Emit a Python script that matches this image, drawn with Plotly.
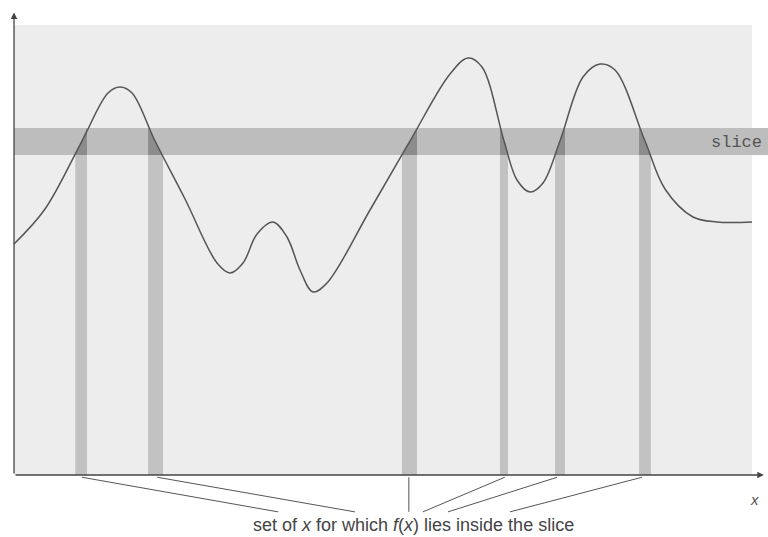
import plotly.graph_objects as go

# curve f(x) (x: 0..100 along the axis, y: 0..100 up to top of the grey panel)
curve_x = [0.0, 4.20, 9.21, 12.74, 14.36, 15.99, 19.11, 23.17, 27.51, 29.27, 31.03, 32.93,
           35.09, 36.99, 38.75, 40.51, 42.41, 48.24, 53.66, 59.08, 61.52, 63.41, 66.40,
           68.16, 69.92, 71.68, 73.98, 77.10, 79.40, 81.44, 85.50, 88.21, 92.01, 95.26, 100.0]
curve_y = [51.33, 59.11, 74.22, 84.89, 86.22, 84.89, 74.22, 61.33, 47.11, 44.89, 47.11, 53.56,
           56.22, 52.89, 45.56, 40.67, 42.67, 58.89, 74.22, 89.11, 92.67, 90.67, 74.22,
           65.56, 62.89, 64.89, 74.22, 88.44, 91.33, 90.0, 74.22, 63.56, 57.33, 56.22, 56.22]

# the horizontal slice
slice_lo = 71.1
slice_hi = 77.1

# x intervals where the curve crosses the slice
cross_left = [8.3, 18.16, 52.57, 65.85, 73.31, 84.7]
cross_right = [9.89, 20.19, 54.61, 66.94, 74.66, 86.3]
cross_rising = [True, False, True, False, True, False]

# leader lines from the intervals to the caption
leader_from = [9.2, 19.4, 53.5, 66.5, 73.6, 85.1]
leader_to = [35.8, 46.2, 53.5, 55.4, 58.8, 67.2]

caption = "set of <i>x</i> for which <i>f</i>(<i>x</i>) lies inside the slice"

fig = go.Figure()

# grey panel behind the plot
fig.add_shape(type="rect", x0=0, x1=100, y0=0, y1=100, line_width=0,
              fillcolor="#ededed", layer="below")

# slice band
fig.add_shape(type="rect", x0=0, x1=105, y0=slice_lo, y1=slice_hi, line_width=0,
              fillcolor="#bdbdbd", layer="below")

# vertical bars under each crossing
for xl, xr in zip(cross_left, cross_right):
    fig.add_shape(type="rect", x0=xl, x1=xr, y0=0, y1=slice_lo, line_width=0,
                  fillcolor="#c2c2c2", layer="below")

# dark part of the slice lying under the curve
for xl, xr, up in zip(cross_left, cross_right, cross_rising):
    if up:
        px = [xl, xr, xr, xl]
        py = [slice_lo, slice_hi, slice_lo, slice_lo]
    else:
        px = [xl, xr, xl, xl]
        py = [slice_hi, slice_lo, slice_lo, slice_hi]
    fig.add_trace(go.Scatter(x=px, y=py, mode="lines", fill="toself",
                             fillcolor="#8c8c8c", line=dict(width=0),
                             hoverinfo="skip", showlegend=False))

# the function
fig.add_trace(go.Scatter(x=curve_x, y=curve_y, mode="lines",
                         line=dict(color="#555555", width=1.5, shape="spline", smoothing=1.0),
                         hoverinfo="skip", showlegend=False))

# leader lines
for a, b in zip(leader_from, leader_to):
    fig.add_trace(go.Scatter(x=[a, b], y=[-0.5, -8.2], mode="lines",
                             line=dict(color="#555555", width=1),
                             hoverinfo="skip", showlegend=False))

# axes with arrowheads
fig.add_annotation(x=0, y=102.8, ax=0, ay=0, xref="x", yref="y", axref="x", ayref="y",
                   text="", showarrow=True, arrowhead=2, arrowsize=1, arrowwidth=1.3,
                   arrowcolor="#444444")
fig.add_annotation(x=101.6, y=0, ax=0, ay=0, xref="x", yref="y", axref="x", ayref="y",
                   text="", showarrow=True, arrowhead=2, arrowsize=1, arrowwidth=1.3,
                   arrowcolor="#444444")

fig.add_annotation(x=100.4, y=-5.4, text="<i>x</i>", showarrow=False,
                   font=dict(family="Liberation Sans, Arial", size=15, color="#555555"))
fig.add_annotation(x=101.6, y=73.8, text="slice", showarrow=False, xanchor="right",
                   font=dict(family="Liberation Mono, Courier New, monospace", size=17,
                             color="#555555"))
fig.add_annotation(x=54.1, y=-11.2, text=caption, showarrow=False,
                   font=dict(family="Liberation Sans, Arial", size=18, color="#444444"))

fig.update_layout(
    width=768, height=537,
    margin=dict(l=0, r=0, t=0, b=0),
    paper_bgcolor="white", plot_bgcolor="white",
    showlegend=False,
    xaxis=dict(range=[-1.9, 102.17], visible=False, fixedrange=True),
    yaxis=dict(range=[-13.78, 105.56], visible=False, fixedrange=True),
)

fig.write_html("out.html", config={"displayModeBar": False},
               post_script="document.body.style.margin='0';document.body.style.overflow='hidden';")
